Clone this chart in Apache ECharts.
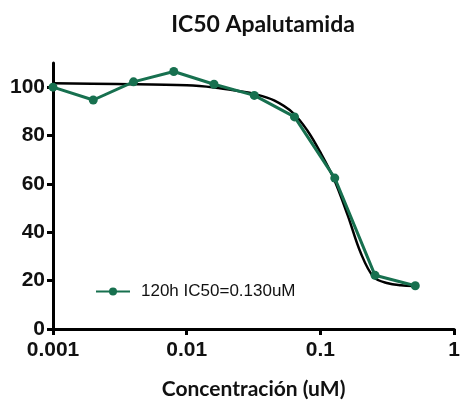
<!DOCTYPE html>
<html>
<head>
<meta charset="utf-8">
<script src="https://cdn.jsdelivr.net/npm/echarts@6/dist/echarts.min.js"></script>
<style>
  html, body { margin: 0; padding: 0; background: #ffffff; }
  #chart { width: 463px; height: 405px; }
</style>
</head>
<body>
<div id="chart"></div>
<script>
// Concentrations (uM) of the two-fold dilution series
const doses = [0.001, 0.002, 0.004, 0.008, 0.016, 0.032, 0.064, 0.128, 0.256, 0.512];
// Measured viability (%) after 120 h
const viability = [100.0, 94.7, 102.2, 106.5, 101.2, 96.6, 87.7, 62.4, 22.2, 17.9];

// Dose-response fit, sampled along the concentration range
const fitDoses = [0.001, 0.003, 0.01, 0.016, 0.025, 0.032, 0.045, 0.0625, 0.08, 0.1, 0.125, 0.16, 0.2, 0.25, 0.32, 0.4, 0.5];
const fitValues = [101.6, 101.3, 100.8, 99.9, 98.3, 97.2, 94.5, 89.3, 82.0, 73.0, 62.5, 47.0, 31.5, 21.5, 18.9, 18.1, 17.8];

const yTicks = [0, 20, 40, 60, 80, 100];
const xTicks = [0.001, 0.01, 0.1, 1];
const xTickLabels = ['0.001', '0.01', '0.1', '1'];

const seriesName = '120h IC50=0.130uM';
const green = '#17704f';

const chart = echarts.init(document.getElementById('chart'), null, { renderer: 'canvas' });

chart.setOption({
  animation: false,
  backgroundColor: '#ffffff',
  title: {
    text: 'IC50 Apalutamida',
    left: 258,
    textAlign: 'center',
    top: 8,
    textStyle: { fontFamily: 'Lato', fontWeight: 'bold', fontSize: 23, color: '#111111' }
  },
  legend: {
    data: [{ name: seriesName }],
    left: 90,
    top: 278,
    itemWidth: 34,
    itemHeight: 10,
    itemGap: 10,
    textStyle: { fontFamily: 'Liberation Sans', fontSize: 17, color: '#111111', padding: [0, 0, 0, 6] }
  },
  grid: { left: 53, top: 63, width: 411, height: 278, containLabel: false },
  xAxis: {
    type: 'log',
    logBase: 10,
    min: 0.001,
    max: 1,
    name: 'Concentración (uM)',
    nameLocation: 'middle',
    nameGap: 50,
    nameTextStyle: { fontFamily: 'Lato', fontWeight: 'bold', fontSize: 21, color: '#111111' },
    axisLine: { lineStyle: { color: '#000000', width: 3 } },
    axisTick: { show: true, length: 6, lineStyle: { color: '#000000', width: 3 }, customValues: xTicks },
    axisLabel: {
      customValues: xTicks,
      formatter: v => xTickLabels[xTicks.findIndex(t => Math.abs(Math.log10(t) - Math.log10(v)) < 1e-6)] ?? '',
      fontFamily: 'Liberation Sans', fontWeight: 'bold', fontSize: 21, color: '#111111', margin: 11
    },
    splitLine: { show: false },
    minorTick: { show: false }
  },
  yAxis: {
    type: 'value',
    min: 0,
    max: 110,
    axisLine: { show: true, lineStyle: { color: '#000000', width: 3 } },
    axisTick: { show: true, length: 6, lineStyle: { color: '#000000', width: 3 }, customValues: yTicks },
    axisLabel: {
      customValues: yTicks,
      fontFamily: 'Liberation Sans', fontWeight: 'bold', fontSize: 21, color: '#111111', margin: 8
    },
    splitLine: { show: false }
  },
  series: [
    {
      name: 'fit',
      type: 'line',
      data: fitDoses.map((d, i) => [d, fitValues[i]]),
      smooth: 0.35,
      showSymbol: false,
      symbol: 'none',
      lineStyle: { color: '#000000', width: 2.5 },
      z: 2,
      silent: true
    },
    {
      name: seriesName,
      type: 'line',
      data: doses.map((d, i) => [d, viability[i]]),
      symbol: 'circle',
      symbolSize: 9,
      itemStyle: { color: green },
      lineStyle: { color: green, width: 3 },
      z: 3
    }
  ]
});
</script>
</body>
</html>
